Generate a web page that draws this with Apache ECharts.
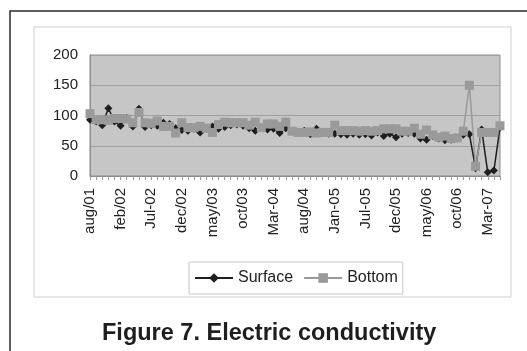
<!DOCTYPE html>
<html>
<head>
<meta charset="utf-8">
<script src="https://cdn.jsdelivr.net/npm/echarts@6/dist/echarts.min.js"></script>
<style>html,body{margin:0;padding:0;background:#fff}#c{width:527px;height:351px}</style>
</head>
<body>
<div id="c"></div>
<script>
var categories = ["aug/01","sep/01","oct/01","nov/01","dec/01","feb/02","mar/02","apr/02","may/02","jun/02",
"Jul-02","aug/02","sep/02","oct/02","nov/02","dec/02","jan/03","feb/03","mar/03","apr/03",
"may/03","jun/03","jul/03","aug/03","sep/03","oct/03","nov/03","dec/03","Jan-04","Feb-04",
"Mar-04","apr/04","may/04","jun/04","jul/04","aug/04","sep/04","oct/04","nov/04","dec/04",
"Jan-05","Feb-05","Mar-05","Apr-05","May-05","Jul-05","aug/05","sep/05","oct/05","nov/05",
"dec/05","jan/06","feb/06","mar/06","apr/06","may/06","jun/06","jul/06","aug/06","sep/06",
"oct/06","nov/06","dec/06","Jan-07","Feb-07","Mar-07","Apr-07","May-07"];

var surface = [93,90,84,112,90,83,96,82,111,81,
84,83,88,86,79,76,75,78,72,78,
82,78,81,84,85,83,79,75,80,77,
78,71,79,74,73,75,69,78,71,70,
70,69,68,70,68,69,67,72,66,70,
64,70,71,70,62,60,66,62,59,60,
62,68,69,13,77,6,9,80];

var bottom = [103,93,93,92,95,95,94,88,105,88,
87,91,82,82,71,88,80,80,82,79,
72,85,89,88,88,88,84,89,80,86,
86,82,89,74,72,72,73,71,72,72,
84,75,75,75,74,75,74,75,78,78,
78,74,74,79,69,76,68,64,66,62,
63,74,150,16,72,72,72,83];

var yTicks = {min: 0, max: 200, interval: 50};

var chart = echarts.init(document.getElementById('c'), null, {renderer: 'canvas'});
var font = 'Liberation Sans, Arial, sans-serif';
chart.setOption({
  animation: false,
  backgroundColor: '#ffffff',
  graphic: [
    {type: 'rect', z: -10, silent: true, shape: {x: 10, y: 11, width: 600, height: 400},
     style: {fill: '#ffffff', stroke: '#2a2a2a', lineWidth: 1.5}},
    {type: 'rect', z: -9, silent: true, shape: {x: 34, y: 27, width: 477, height: 270},
     style: {fill: '#ffffff', stroke: '#cfcfcf', lineWidth: 1}}
  ],
  title: {
    text: 'Figure 7. Electric conductivity',
    left: 102, top: 322, padding: 0,
    textStyle: {fontFamily: font, fontSize: 23.5, fontWeight: 'bold', color: '#1e1e1e'}
  },
  legend: {
    data: ['Surface', 'Bottom'],
    left: 189, top: 262,
    padding: [8, 5, 8, 5],
    itemGap: 10, itemWidth: 38, itemHeight: 12,
    borderColor: '#c8c8c8', borderWidth: 1,
    textStyle: {fontFamily: font, fontSize: 16, color: '#222'}
  },
  grid: {left: 90, right: 27, top: 55, bottom: 175, show: true,
         backgroundColor: '#c6c6c6', borderColor: '#8c8c8c', borderWidth: 1,
         outerBoundsMode: 'none', containLabel: false},
  xAxis: {
    type: 'category', data: categories, boundaryGap: false,
    axisLine: {lineStyle: {color: '#8c8c8c', width: 1}},
    axisTick: {show: true, interval: 0, length: 4, lineStyle: {color: '#9a9a9a'}},
    axisLabel: {interval: 4, rotate: 90, margin: 12, fontFamily: font, fontSize: 15, color: '#222'},
    splitLine: {show: false}
  },
  yAxis: {
    type: 'value', min: yTicks.min, max: yTicks.max, interval: yTicks.interval,
    axisLine: {show: true, lineStyle: {color: '#8c8c8c'}},
    axisTick: {show: false},
    axisLabel: {margin: 12, fontFamily: font, fontSize: 15, color: '#222'},
    splitLine: {show: true, lineStyle: {color: '#a0a0a0', width: 1}}
  },
  series: [
    {name: 'Surface', type: 'line', data: surface, symbol: 'diamond', symbolSize: 8,
     showAllSymbol: true,
     itemStyle: {color: '#1e1e1e'}, lineStyle: {color: '#1e1e1e', width: 1.5}, z: 2},
    {name: 'Bottom', type: 'line', data: bottom, symbol: 'rect', symbolSize: 9,
     showAllSymbol: true,
     itemStyle: {color: '#9a9a9a'}, lineStyle: {color: '#9a9a9a', width: 1.5}, z: 3}
  ]
});
</script>
</body>
</html>
